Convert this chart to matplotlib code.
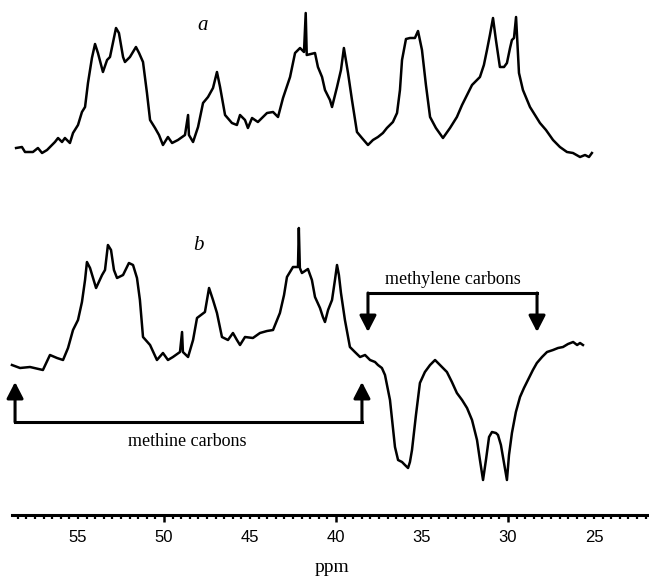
import numpy as np
import matplotlib
matplotlib.use("Agg")
import matplotlib.pyplot as plt
from matplotlib.ticker import FixedLocator, FuncFormatter

# ---------------- data (ppm, relative intensity) ----------------
ppm_a = [58.60, 58.26, 58.08, 57.62, 57.33, 57.09, 56.80, 56.63, 56.34, 56.16,
         55.93, 55.76, 55.47, 55.29, 55.00, 54.77, 54.59, 54.42, 54.19, 54.01,
         53.84, 53.55, 53.31, 53.14, 52.97, 52.79, 52.62, 52.38, 52.27, 51.98,
         51.63, 51.45, 51.22, 50.99, 50.81, 50.52, 50.29, 50.06, 49.77, 49.53,
         49.19, 48.78, 48.60, 48.55, 48.31, 48.02, 47.73, 47.44, 47.15, 46.92,
         46.74, 46.45, 46.05, 45.76, 45.58, 45.29, 45.12, 44.88, 44.54, 44.01,
         43.66, 43.37, 43.08, 42.67, 42.38, 42.09, 41.86, 41.76, 41.70, 41.22,
         41.05, 40.81, 40.64, 40.35, 40.23, 39.94, 39.71, 39.54, 39.30, 39.07,
         38.78, 38.49, 38.14, 37.85, 37.56, 37.27, 37.04, 36.69, 36.45, 36.28,
         36.16, 35.93, 35.70, 35.41, 35.23, 35.00, 34.77, 34.53, 34.19, 33.78,
         33.37, 32.97, 32.67, 32.38, 32.09, 31.63, 31.40, 31.22, 31.05, 30.87,
         30.70, 30.47, 30.23, 30.06, 29.88, 29.77, 29.65, 29.53, 29.36, 29.13,
         28.72, 28.43, 28.14, 27.79, 27.38, 26.98, 26.57, 26.22, 25.81, 25.52,
         25.29, 25.12]
int_a = [2, 3, -2, -2, 2, -3, 0, 3, 8, 12,
         8, 12, 7, 17, 25, 38, 43, 67, 92, 106,
         97, 78, 90, 93, 107, 122, 117, 93, 88, 93,
         103, 97, 88, 57, 30, 22, 15, 5, 13, 7,
         10, 15, 35, 15, 8, 23, 47, 53, 62, 78,
         63, 35, 27, 25, 35, 30, 22, 32, 28, 37,
         38, 33, 52, 73, 97, 102, 98, 137, 95, 97,
         83, 73, 60, 50, 43, 63, 80, 102, 77, 50,
         18, 12, 5, 10, 13, 17, 22, 28, 37, 60,
         90, 111, 112, 112, 119, 100, 65, 33, 22, 12,
         22, 33, 45, 55, 65, 73, 85, 100, 115, 132,
         110, 83, 83, 87, 102, 110, 112, 133, 77, 60,
         43, 35, 27, 20, 10, 3, -2, -3, -7, -5,
         -7, -3]

ppm_b = [58.84, 58.37, 57.79, 57.04, 56.63, 56.22, 55.87, 55.58, 55.29, 55.00,
         54.77, 54.59, 54.48, 54.30, 53.95, 53.60, 53.43, 53.26, 53.08, 52.91,
         52.73, 52.38, 52.04, 51.80, 51.57, 51.40, 51.22, 50.81, 50.41, 50.06,
         49.77, 49.48, 49.07, 48.95, 48.90, 48.60, 48.31, 48.08, 47.85, 47.62,
         47.38, 47.15, 46.92, 46.63, 46.28, 45.99, 45.76, 45.58, 45.29, 44.83,
         44.42, 44.01, 43.66, 43.26, 43.02, 42.85, 42.50, 42.21, 42.16, 42.10,
         41.98, 41.63, 41.40, 41.22, 40.93, 40.76, 40.64, 40.46, 40.23, 40.06,
         39.94, 39.83, 39.71, 39.48, 39.19, 38.90, 38.60, 38.31, 38.02, 37.73,
         37.56, 37.33, 37.15, 36.86, 36.57, 36.39, 36.16, 35.99, 35.81, 35.70,
         35.58, 35.35, 35.12, 34.83, 34.53, 34.24, 33.95, 33.55, 33.26, 32.97,
         32.67, 32.38, 32.09, 31.80, 31.63, 31.45, 31.28, 31.10, 30.93, 30.70,
         30.58, 30.41, 30.29, 30.06, 29.94, 29.77, 29.54, 29.30, 29.07, 28.84,
         28.55, 28.32, 28.02, 27.73, 27.38, 27.09, 26.80, 26.51, 26.21, 25.98,
         25.81, 25.64]
int_b = [0, -3, -2, -5, 10, 7, 5, 17, 35, 45,
         63, 85, 103, 97, 77, 90, 95, 120, 115, 95,
         87, 90, 102, 100, 87, 65, 28, 20, 5, 12,
         5, 8, 13, 33, 13, 8, 25, 47, 50, 53,
         77, 65, 52, 28, 25, 32, 25, 20, 28, 27,
         32, 34, 35, 52, 70, 88, 98, 98, 137, 97,
         92, 96, 85, 68, 57, 48, 43, 55, 65, 85,
         100, 90, 72, 45, 18, 13, 8, 10, 5, 3,
         0, -3, -10, -35, -82, -95, -97, -100, -103, -97,
         -85, -50, -18, -7, 0, 5, 0, -7, -17, -28,
         -35, -43, -55, -75, -95, -115, -95, -72, -67, -68,
         -70, -80, -92, -115, -90, -68, -47, -32, -23, -15,
         -5, 2, 8, 13, 15, 17, 18, 21, 23, 20,
         22, 20]

tick_labels = ["55", "50", "45", "40", "35", "30", "25"]
methine_range = (58.66, 38.49)
methylene_range = (38.14, 28.31)

# ---------------- layout constants ----------------
W, H = 649, 576
AXIS_Y = 515
OFFSET_A = 365
OFFSET_B = 150

fig = plt.figure(figsize=(W / 100, H / 100), dpi=100)
ax = fig.add_axes([0, (H - AXIS_Y) / H, 1, AXIS_Y / H])
ax.set_xlim(59.535, 21.80)
ax.set_ylim(0, AXIS_Y)

ax.plot(ppm_a, np.array(int_a) + OFFSET_A, color="black", lw=1.8,
        solid_joinstyle="round")
ax.plot(ppm_b, np.array(int_b) + OFFSET_B, color="black", lw=1.8,
        solid_joinstyle="round")

for s in ["left", "right", "top"]:
    ax.spines[s].set_visible(False)
ax.spines["bottom"].set_linewidth(2.2)
ax.spines["bottom"].set_bounds(58.84, 21.80)
ax.set_yticks([])

ax.xaxis.set_major_locator(FixedLocator([50, 40, 30]))
ax.xaxis.set_minor_locator(FixedLocator(np.arange(22.0, 58.9, 0.5)))
ax.xaxis.set_major_formatter(FuncFormatter(lambda v, p: f"{v:g}"))
ax.xaxis.set_minor_formatter(FuncFormatter(
    lambda v, p: f"{v:g}" if f"{v:g}" in tick_labels else ""))
ax.tick_params(axis="x", which="major", direction="out", length=5.2, width=1.8,
               pad=5.6, labelsize=12)
ax.tick_params(axis="x", which="minor", direction="out", length=2.6, width=1.6,
               pad=8.2, labelsize=12)
for lab in ax.get_xticklabels(which="both"):
    lab.set_fontfamily("Liberation Sans")

serif = "Liberation Serif"

# brackets with arrows
def bracket(xr, y_bar, y_tip):
    x1, x2 = xr
    ax.plot([x1, x2], [y_bar, y_bar], color="black", lw=2.2,
            solid_capstyle="projecting")
    for x in (x1, x2):
        ax.annotate("", xy=(x, y_tip), xytext=(x, y_bar),
                    arrowprops=dict(arrowstyle="-|>,head_length=0.7,head_width=0.36",
                                    mutation_scale=14, lw=2.2, color="black",
                                    shrinkA=0, shrinkB=0))

bracket(methine_range, 93, 133)
bracket(methylene_range, 222, 183)

ax.text(48.66, 73, "methine carbons", ha="center", va="center",
        fontsize=13, family=serif)
ax.text(33.2, 235, "methylene carbons", ha="center", va="center",
        fontsize=13, family=serif)
ax.text(47.73, 490, "a", ha="center", va="center", fontsize=15,
        family=serif, style="italic")
ax.text(48.0, 270, "b", ha="center", va="center", fontsize=15,
        family=serif, style="italic")

fig.text(332 / W, 1 - 568 / H, "ppm", ha="center", va="center",
         fontsize=14, family=serif)

fig.savefig("out.png", dpi=100)
